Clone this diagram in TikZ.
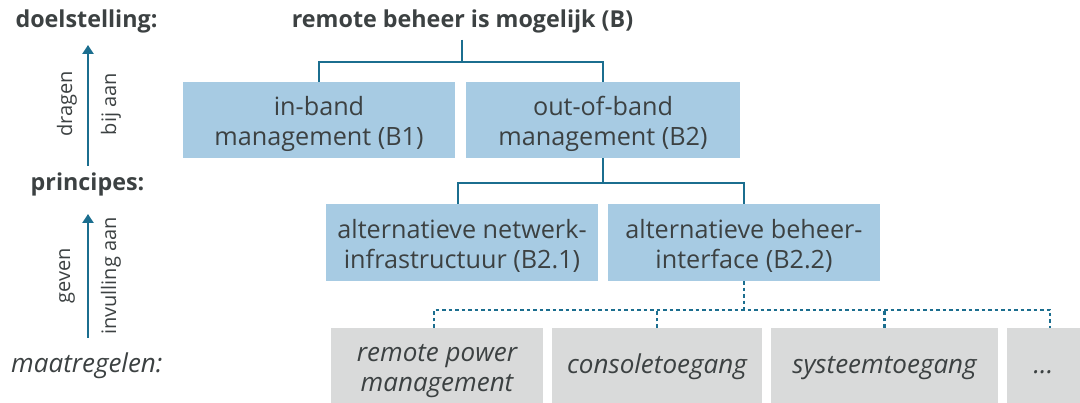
\documentclass[tikz,border=0pt]{standalone}
\usepackage{fontspec}
\setmainfont{Open Sans}
\usetikzlibrary{arrows.meta}
\definecolor{boxblue}{HTML}{A7CBE3}
\definecolor{boxgray}{HTML}{D9DADA}
\definecolor{linec}{HTML}{1B6E8F}
\definecolor{txt}{HTML}{3C4142}
\tikzset{
  bluebox/.style={fill=boxblue, draw=none, minimum height=76pt, inner sep=0pt},
  graybox/.style={fill=boxgray, draw=none, minimum height=75pt, inner sep=0pt},
  btext/.style={text=txt, inner sep=0pt, align=center, font=\fontsize{25.2}{30}\selectfont},
  gtext/.style={text=txt, inner sep=0pt, align=center, font=\fontsize{26}{29.5}\selectfont\itshape},
  conn/.style={draw=linec, line width=2.4pt},
  dconn/.style={draw=linec, line width=2.4pt, dash pattern=on 3.5pt off 3pt},
  uparrow/.style={draw=linec, line width=2.6pt, -{Triangle[length=9pt,width=11pt]}},
  boldlbl/.style={text=txt, inner sep=0pt, anchor=base, font=\fontsize{23.3}{25}\selectfont\bfseries},
  itlbl/.style={text=txt, inner sep=0pt, anchor=base west, font=\fontsize{26}{28}\selectfont\itshape},
  rlbl/.style={text=txt, inner sep=0pt, rotate=90, font=\fontsize{20}{22}\selectfont},
}
\begin{document}
\begin{tikzpicture}[x=1pt, y=-1pt]
\useasboundingbox (0,0) rectangle (1080,403);
% left column
\node[boldlbl] (doel) at (86.5,27.5) {doelstelling:};
\node[boldlbl] (princ) at (87.5,191) {principes:};
\node[itlbl] (maat) at (11,372.5) {maatregelen:};
\coordinate (a1s) at (88,166);
\coordinate (a1e) at (88,45);
\coordinate (a2s) at (88,338);
\coordinate (a2e) at (88,214);
\draw[uparrow] (a1s) -- (a1e);
\draw[uparrow] (a2s) -- (a2e);
\node[rlbl] (dragen) at (67,104) {dragen};
\node[rlbl] (bijaan) at (111,104) {bij aan};
\node[rlbl] (geven) at (67,276) {geven};
\node[rlbl] (invul) at (111,276) {invulling aan};
% tree
\node[boldlbl] (B) at (462.5,27.5) {remote beheer is mogelijk (B)};
\node[bluebox, minimum width=272pt] (B1) at (319,120) {};
\node[bluebox, minimum width=274pt] (B2) at (603,120) {};
\node[bluebox, minimum width=272pt, minimum height=77pt] (B21) at (462,242.5) {};
\node[bluebox, minimum width=272pt, minimum height=77pt] (B22) at (744,242.5) {};
\node[btext] (B1t) at ([yshift=-3.5pt]B1.center) {in-band\\management (B1)};
\node[btext] (B2t) at ([yshift=-3.5pt]B2.center) {out-of-band\\management (B2)};
\node[btext] (B21t) at ([yshift=-3.5pt]B21.center) {alternatieve netwerk-\\infrastructuur (B2.1)};
\node[btext] (B22t) at ([yshift=-3.5pt]B22.center) {alternatieve beheer-\\interface (B2.2)};
\node[graybox, minimum width=212pt] (M1) at (437,365.5) {};
\node[graybox, minimum width=210pt] (M2) at (657,365.5) {};
\node[graybox, minimum width=227pt] (M3) at (884.5,365.5) {};
\node[graybox, minimum width=73pt] (M4) at (1043.5,365.5) {};
\node[gtext] (M1t) at ([yshift=-5.5pt]M1.center) {remote power\\management};
\node[gtext, anchor=base] (M2t) at (657,374) {consoletoegang};
\node[gtext, anchor=base] (M3t) at (884.5,374) {systeemtoegang};
\node[gtext, anchor=base] (M4t) at (1043.5,374) {...};
% connectors
\coordinate (Bj) at (462,40);
\draw[conn] (Bj) |- (319,62) -- (B1.north);
\draw[conn] (Bj) |- (603,62) -- (B2.north);
\draw[conn] (B2.south) |- (458,183) -- (458,204);
\draw[conn] (B2.south) |- (744,183) -- (B22.north);
\draw[dconn] (B22.south) -- (744,310);
\draw[dconn] (434,328) -- (434,310) -- (1050,310) -- (1050,328);
\draw[dconn] (M2.north) -- (657,310);
\draw[dconn] (884.5,328) -- (884.5,310);
\end{tikzpicture}
\end{document}
